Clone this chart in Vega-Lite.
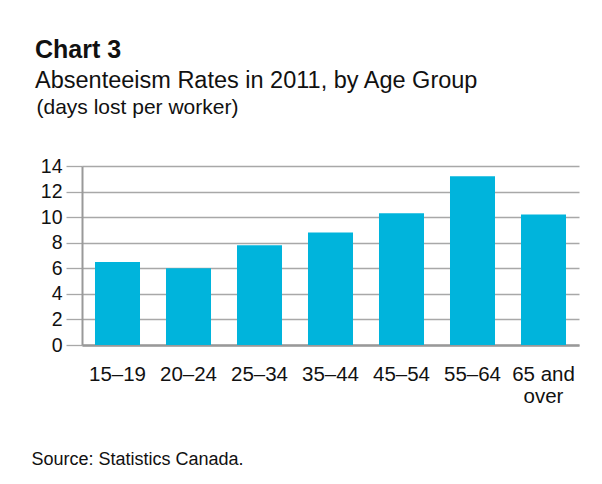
{
  "$schema": "https://vega.github.io/schema/vega-lite/v6.json",
  "width": 497,
  "height": 179,
  "autosize": {"type": "none"},
  "padding": {"left": 82, "top": 166, "right": 23, "bottom": 139},
  "background": "white",
  "title": {
    "text": "Chart 3",
    "subtitle": "Absenteeism Rates in 2011, by Age Group",
    "anchor": "start",
    "frame": "group",
    "dx": -47,
    "font": "Liberation Sans",
    "fontSize": 25,
    "fontWeight": "bold",
    "color": "#111111",
    "subtitleFont": "Liberation Sans",
    "subtitleFontSize": 23.5,
    "subtitleColor": "#111111",
    "subtitlePadding": 6
  },
  "data": {
    "values": [
      {"age": "15–19", "days": 6.5},
      {"age": "20–24", "days": 6.0},
      {"age": "25–34", "days": 7.8},
      {"age": "35–44", "days": 8.8},
      {"age": "45–54", "days": 10.3},
      {"age": "55–64", "days": 13.2},
      {"age": "65 and over", "days": 10.2}
    ]
  },
  "mark": {"type": "bar", "color": "#00b4dc"},
  "encoding": {
    "x": {
      "field": "age",
      "type": "nominal",
      "sort": null,
      "scale": {"paddingInner": 0.366, "paddingOuter": 0.183},
      "axis": {
        "title": "Source: Statistics Canada.",
        "titleX": -51,
        "titleY": 119,
        "titleAlign": "left",
        "titleAnchor": null,
        "titleBaseline": "alphabetic",
        "titleFont": "Liberation Sans",
        "titleFontSize": 18,
        "titleFontWeight": "normal",
        "titleColor": "#111111",
        "labelAngle": 0,
        "ticks": false,
        "domain": true,
        "domainColor": "#999999",
        "domainWidth": 2.5,
        "labelFont": "Liberation Sans",
        "labelFontSize": 20.5,
        "labelColor": "#111111",
        "labelPadding": 19,
        "labelLineHeight": 22,
        "labelExpr": "datum.value == '65 and over' ? ['65 and', 'over'] : datum.value"
      }
    },
    "y": {
      "field": "days",
      "type": "quantitative",
      "scale": {"domain": [0, 14]},
      "axis": {
        "values": [0, 2, 4, 6, 8, 10, 12, 14],
        "grid": true,
        "gridColor": "#a8a8a8",
        "gridWidth": 1.3,
        "tickSize": 16,
        "tickColor": "#a8a8a8",
        "tickWidth": 1.3,
        "domainColor": "#999999",
        "domainWidth": 2,
        "labelFont": "Liberation Sans",
        "labelFontSize": 19.5,
        "labelColor": "#111111",
        "labelPadding": 4,
        "title": "(days lost per worker)",
        "titleAngle": 0,
        "titleX": -46,
        "titleY": -53,
        "titleAlign": "left",
        "titleAnchor": null,
        "titleBaseline": "alphabetic",
        "titleFont": "Liberation Sans",
        "titleFontSize": 21,
        "titleFontWeight": "normal",
        "titleColor": "#111111"
      }
    }
  },
  "config": {"view": {"stroke": null}}
}
